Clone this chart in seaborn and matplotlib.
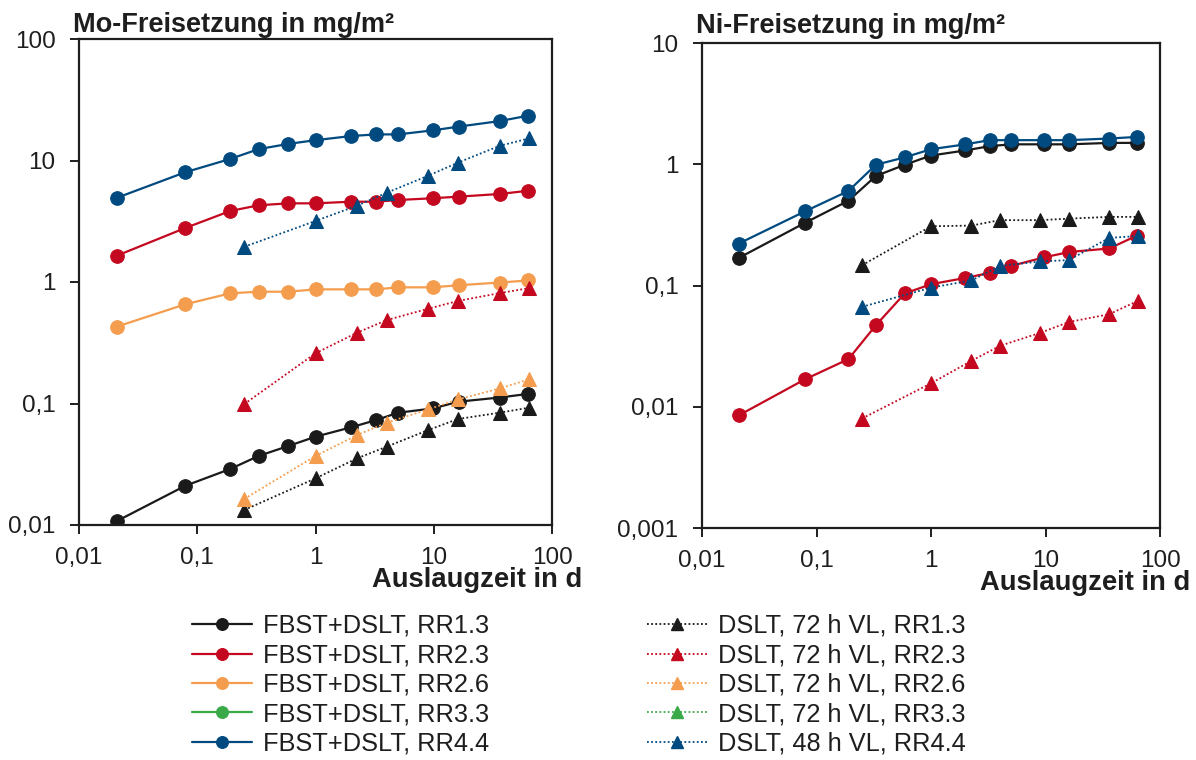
import matplotlib
matplotlib.use("Agg")
import matplotlib.pyplot as plt
from matplotlib.lines import Line2D
from matplotlib.ticker import FixedLocator, FixedFormatter, NullLocator
import seaborn as sns
import pandas as pd

# ---------------- data ----------------
t_fbst = [0.021, 0.079, 0.19, 0.33, 0.59, 1.0, 2.0, 3.25, 5.0, 9.8, 16.2, 36.0, 63.0]
t_dslt = [0.25, 1.0, 2.25, 4.0, 9.0, 16.0, 36.0, 64.0]

mo_fbst_rr13 = [0.0108, 0.021, 0.0289, 0.037, 0.0447, 0.0533, 0.0637, 0.073, 0.084, 0.091, 0.1035, 0.112, 0.12]
mo_fbst_rr23 = [1.65, 2.78, 3.84, 4.28, 4.44, 4.44, 4.58, 4.58, 4.73, 4.89, 5.04, 5.3, 5.64]
mo_fbst_rr26 = [0.43, 0.655, 0.807, 0.832, 0.832, 0.87, 0.87, 0.87, 0.904, 0.904, 0.94, 0.99, 1.03]
mo_fbst_rr44 = [4.94, 8.0, 10.3, 12.4, 13.7, 14.7, 15.9, 16.4, 16.4, 17.7, 19.0, 21.1, 23.4]
mo_dslt_rr13 = [0.0133, 0.0242, 0.0354, 0.0441, 0.0605, 0.0745, 0.084, 0.0924]
mo_dslt_rr23 = [0.099, 0.259, 0.383, 0.486, 0.603, 0.698, 0.81, 0.89]
mo_dslt_rr26 = [0.0164, 0.037, 0.055, 0.0695, 0.0895, 0.108, 0.133, 0.158]
mo_dslt_rr44 = [1.95, 3.18, 4.25, 5.43, 7.5, 9.6, 13.2, 15.2]

ni_fbst_rr13 = [0.169, 0.328, 0.50, 0.80, 0.99, 1.18, 1.30, 1.41, 1.46, 1.46, 1.46, 1.50, 1.50]
ni_fbst_rr23 = [0.0085, 0.0168, 0.0247, 0.047, 0.086, 0.1025, 0.1155, 0.127, 0.145, 0.171, 0.189, 0.202, 0.258]
ni_fbst_rr44 = [0.222, 0.408, 0.602, 0.99, 1.14, 1.33, 1.46, 1.58, 1.58, 1.58, 1.58, 1.63, 1.68]
ni_dslt_rr13 = [0.147, 0.308, 0.312, 0.346, 0.346, 0.356, 0.368, 0.368]
ni_dslt_rr23 = [0.008, 0.0156, 0.0239, 0.0318, 0.0407, 0.050, 0.058, 0.0746]
ni_dslt_rr44 = [0.0667, 0.096, 0.11, 0.145, 0.158, 0.162, 0.247, 0.256]

fbst_labels = ["FBST+DSLT, RR1.3", "FBST+DSLT, RR2.3", "FBST+DSLT, RR2.6",
               "FBST+DSLT, RR3.3", "FBST+DSLT, RR4.4"]
dslt_labels = ["DSLT, 72 h VL, RR1.3", "DSLT, 72 h VL, RR2.3", "DSLT, 72 h VL, RR2.6",
               "DSLT, 72 h VL, RR3.3", "DSLT, 48 h VL, RR4.4"]
series_colors = ["#1a1a1a", "#c4081f", "#f49d4e", "#3aaa48", "#004a80"]

tick_vals_x = [0.01, 0.1, 1, 10, 100]
tick_labels_x = ["0,01", "0,1", "1", "10", "100"]
tick_vals_mo = [0.01, 0.1, 1, 10, 100]
tick_labels_mo = ["0,01", "0,1", "1", "10", "100"]
tick_vals_ni = [0.001, 0.01, 0.1, 1, 10]
tick_labels_ni = ["0,001", "0,01", "0,1", "1", "10"]

mo_fbst = {0: mo_fbst_rr13, 1: mo_fbst_rr23, 2: mo_fbst_rr26, 4: mo_fbst_rr44}
mo_dslt = {0: mo_dslt_rr13, 1: mo_dslt_rr23, 2: mo_dslt_rr26, 4: mo_dslt_rr44}
ni_fbst = {0: ni_fbst_rr13, 1: ni_fbst_rr23, 4: ni_fbst_rr44}
ni_dslt = {0: ni_dslt_rr13, 1: ni_dslt_rr23, 4: ni_dslt_rr44}

# ---------------- style ----------------
sns.set_style("ticks")
plt.rcParams["font.family"] = ["Liberation Sans", "DejaVu Sans"]
txt_color = "#1e1e1e"

fig = plt.figure(figsize=(11.96, 7.6), dpi=100)
W, H = 1196, 760
ax1 = fig.add_axes([79 / W, 1 - 525 / H, 473 / W, 486 / H])
ax2 = fig.add_axes([702 / W, 1 - 528 / H, 458 / W, 485 / H])

DOT = (0, (1.0, 1.3))
fb_kw = dict(marker="o", markersize=9.8, linewidth=1.6, linestyle="-")
ds_kw = dict(marker="^", markersize=9.8, linewidth=1.3, linestyle=DOT)


def draw(ax, fb, ds):
    for i, vals in fb.items():
        df = pd.DataFrame({"t": t_fbst, "v": vals})
        sns.lineplot(data=df, x="t", y="v", ax=ax, color=series_colors[i],
                     markeredgecolor=series_colors[i], errorbar=None, **fb_kw)
    for i, vals in ds.items():
        df = pd.DataFrame({"t": t_dslt, "v": vals})
        sns.lineplot(data=df, x="t", y="v", ax=ax, color=series_colors[i],
                     markeredgecolor=series_colors[i], errorbar=None, **ds_kw)


draw(ax1, mo_fbst, mo_dslt)
draw(ax2, ni_fbst, ni_dslt)


def style_axis(ax, yvals, ylabels):
    ax.set_xscale("log")
    ax.set_yscale("log")
    ax.set_xlim(tick_vals_x[0], tick_vals_x[-1])
    ax.set_ylim(yvals[0], yvals[-1])
    ax.xaxis.set_major_locator(FixedLocator(tick_vals_x))
    ax.xaxis.set_major_formatter(FixedFormatter(tick_labels_x))
    ax.yaxis.set_major_locator(FixedLocator(yvals))
    ax.yaxis.set_major_formatter(FixedFormatter(ylabels))
    ax.xaxis.set_minor_locator(NullLocator())
    ax.yaxis.set_minor_locator(NullLocator())
    ax.set_xlabel("")
    ax.set_ylabel("")
    for s in ax.spines.values():
        s.set_visible(True)
        s.set_linewidth(1.6)
        s.set_color(txt_color)
    ax.tick_params(axis="both", which="major", direction="out", length=6.5,
                   width=1.4, color=txt_color, labelsize=17.5, labelcolor=txt_color,
                   top=False, right=False)
    ax.tick_params(axis="x", pad=9.0)
    ax.tick_params(axis="y", pad=10.5)
    ax.set_facecolor("white")


style_axis(ax1, tick_vals_mo, tick_labels_mo)
style_axis(ax2, tick_vals_ni, tick_labels_ni)

# titles and axis labels
fig.text(73 / W, 1 - 32 / H, "Mo-Freisetzung in mg/m²", fontsize=19.5, fontweight="bold",
         color=txt_color, ha="left", va="baseline")
fig.text(696 / W, 1 - 33 / H, "Ni-Freisetzung in mg/m²", fontsize=19.5, fontweight="bold",
         color=txt_color, ha="left", va="baseline")
fig.text(582 / W, 1 - 587 / H, "Auslaugzeit in d", fontsize=19.7, fontweight="bold",
         color=txt_color, ha="right", va="baseline")
fig.text(1190 / W, 1 - 590 / H, "Auslaugzeit in d", fontsize=19.7, fontweight="bold",
         color=txt_color, ha="right", va="baseline")

# legend
handles = []
labels = []
for i, lab in enumerate(fbst_labels):
    handles.append(Line2D([], [], color=series_colors[i], markeredgecolor=series_colors[i],
                          **fb_kw))
    labels.append(lab)
for i, lab in enumerate(dslt_labels):
    handles.append(Line2D([], [], color=series_colors[i], markeredgecolor=series_colors[i],
                          **ds_kw))
    labels.append(lab)

leg = fig.legend(handles, labels, ncol=2, loc="upper left",
                 bbox_to_anchor=(192 / W, 1 - 614 / H), frameon=False,
                 fontsize=18.3, handlelength=2.36, handletextpad=0.43,
                 columnspacing=6.2, labelspacing=0.215, borderpad=0,
                 borderaxespad=0, markerscale=0.85)
for t in leg.get_texts():
    t.set_color(txt_color)

fig.savefig("out.png", dpi=100, facecolor="white")
